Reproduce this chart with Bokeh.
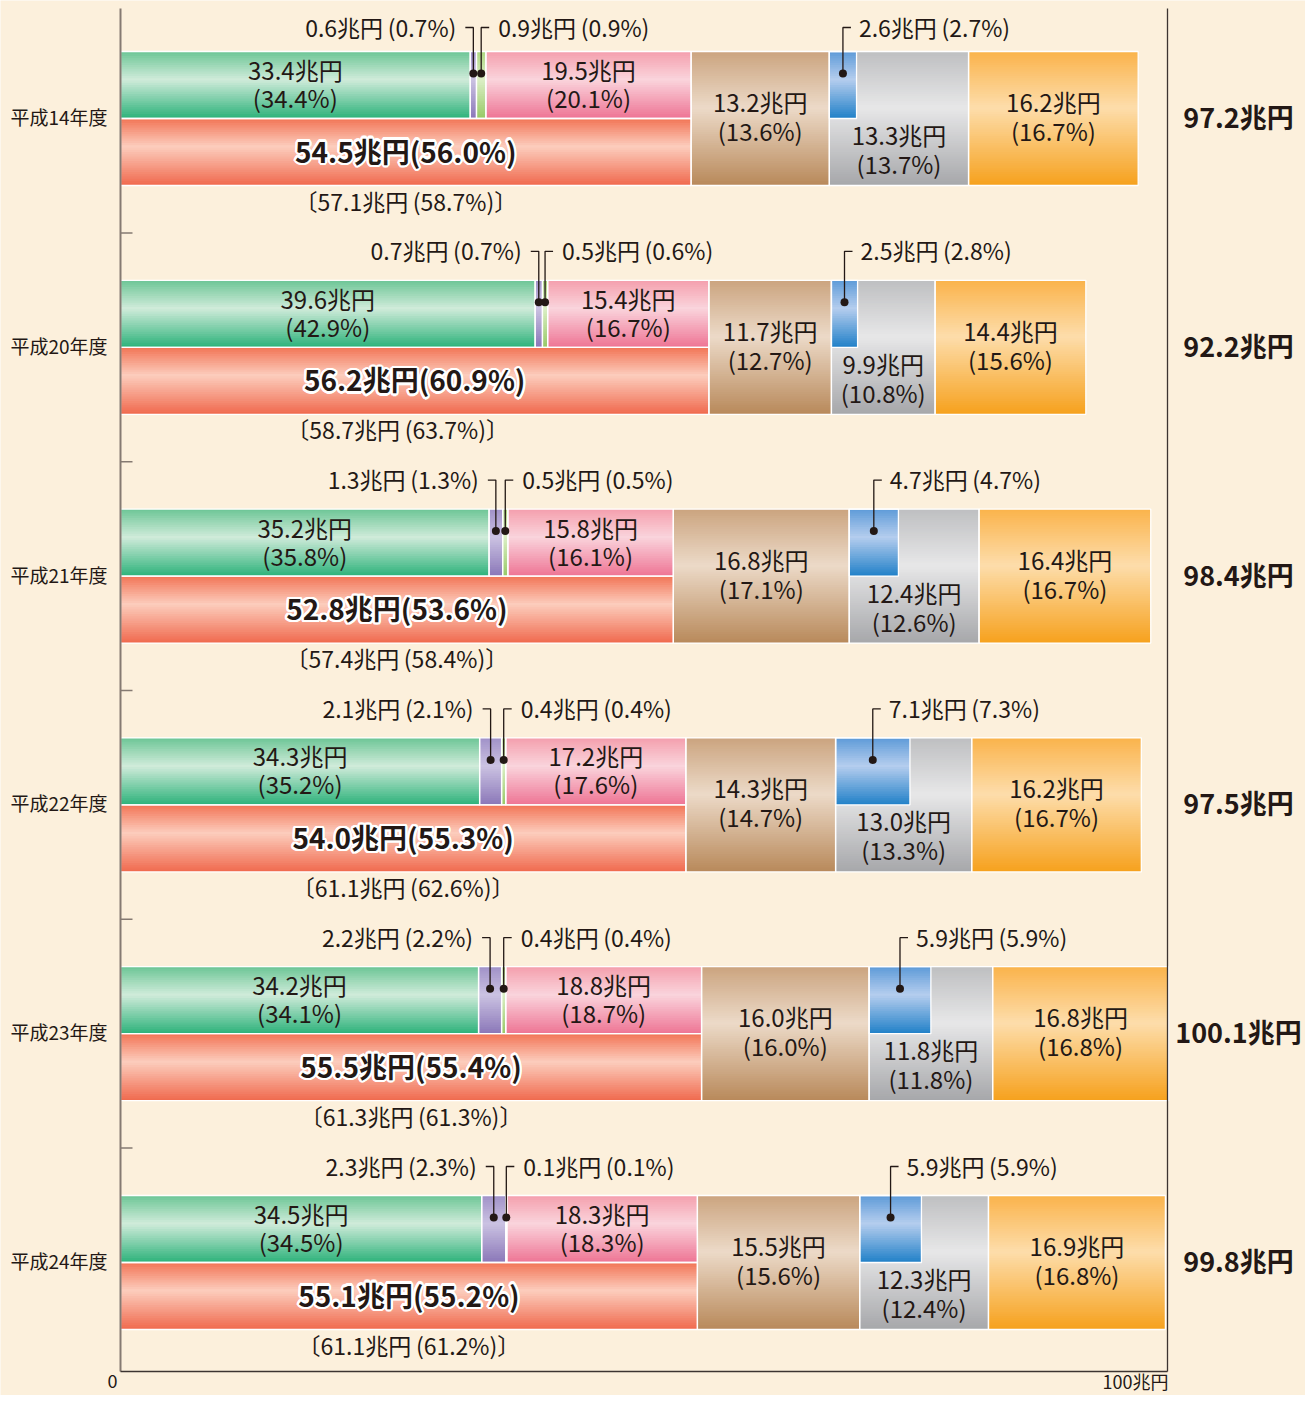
import math
from bokeh.plotting import figure
from bokeh.models import Range1d, ColumnDataSource
from bokeh.embed import file_html
from bokeh.resources import INLINE
from bokeh.core.properties import value

# ---------------- data ----------------
years = ["平成14年度", "平成20年度", "平成21年度", "平成22年度", "平成23年度", "平成24年度"]
green = [33.4, 39.6, 35.2, 34.3, 34.2, 34.5]
green_pct = [34.4, 42.9, 35.8, 35.2, 34.1, 34.5]
purple = [0.6, 0.7, 1.3, 2.1, 2.2, 2.3]
purple_pct = [0.7, 0.7, 1.3, 2.1, 2.2, 2.3]
lgreen = [0.9, 0.5, 0.5, 0.4, 0.4, 0.1]
lgreen_pct = [0.9, 0.6, 0.5, 0.4, 0.4, 0.1]
pink = [19.5, 15.4, 15.8, 17.2, 18.8, 18.3]
pink_pct = [20.1, 16.7, 16.1, 17.6, 18.7, 18.3]
red = [54.5, 56.2, 52.8, 54.0, 55.5, 55.1]
red_pct = [56.0, 60.9, 53.6, 55.3, 55.4, 55.2]
bracket = [57.1, 58.7, 57.4, 61.1, 61.3, 61.1]
bracket_pct = [58.7, 63.7, 58.4, 62.6, 61.3, 61.2]
brown = [13.2, 11.7, 16.8, 14.3, 16.0, 15.5]
brown_pct = [13.6, 12.7, 17.1, 14.7, 16.0, 15.6]
blue = [2.6, 2.5, 4.7, 7.1, 5.9, 5.9]
blue_pct = [2.7, 2.8, 4.7, 7.3, 5.9, 5.9]
gray = [13.3, 9.9, 12.4, 13.0, 11.8, 12.3]
gray_pct = [13.7, 10.8, 12.6, 13.3, 11.8, 12.4]
orange = [16.2, 14.4, 16.4, 16.2, 16.8, 16.9]
orange_pct = [16.7, 15.6, 16.7, 16.7, 16.8, 16.8]
totals = [97.2, 92.2, 98.4, 97.5, 100.1, 99.8]
axis_labels = ["0", "100兆円"]

# ---------------- layout / style ----------------
W, H = 1305, 1395
SX = 10.47          # px per 兆円
X0 = 120            # px of value 0
ROW = 228.8         # px between categories
Y0 = 118            # px of first category centre
HALF = 67
BG = "#FCF0DC"
TXT = "#231815"
FONT = "Noto Sans CJK JP"
TS = "\u2009"       # thin space before parentheses
leader_gap = [24, 29, 29, 29, 29, 29]
bracket_dx = [0, -17, 0, 0, 0, 0]

COLORS = {
    "green": ["#6CC596", "#D0EBDA", "#2CB27A"],
    "purple": ["#A091C8", "#CBC2E2", "#8A77B8"],
    "lg": ["#AED681", "#DCEFC6", "#97C966"],
    "pink": ["#F49FAD", "#FAD4DC", "#EE7494"],
    "red": ["#F27456", "#FCCDBD", "#F0694D"],
    "brown": ["#CBA47F", "#ECDAC8", "#B8895A"],
    "gray": ["#BEBFC1", "#E7E7E8", "#A6A7AA"],
    "blue": ["#5E9BD8", "#B5CDEE", "#2080C8"],
    "orange": ["#FAB34B", "#FDDDAB", "#F6A11D"],
}
MID = 0.42


def hex2rgb(h):
    h = h.lstrip("#")
    return tuple(int(h[k:k + 2], 16) for k in (0, 2, 4))


def grad(name, t):
    c0, c1, c2 = [hex2rgb(c) for c in COLORS[name]]
    if t <= MID:
        a, b, u = c0, c1, t / MID
    else:
        a, b, u = c1, c2, (t - MID) / (1 - MID)
    return "#%02x%02x%02x" % tuple(int(round(a[k] + (b[k] - a[k]) * u)) for k in range(3))


def dx(px):
    return px / SX


def dy(px):
    return px / ROW


def yref(px_ref):
    return (px_ref - Y0) / ROW


p = figure(width=W, height=H,
           x_range=Range1d(-X0 / SX, (W - X0) / SX),
           y_range=Range1d((H - Y0) / ROW, -Y0 / ROW),
           output_backend="svg", toolbar_location=None,
           x_axis_type=None, y_axis_type=None, min_border=0,
           background_fill_color=BG, border_fill_color=BG,
           outline_line_color=None)

# ---------------- segments ----------------
segs = []
n = len(years)
geo = []
for i in range(n):
    a = green[i]
    b = a + purple[i]
    c = b + lgreen[i]
    r = red[i]
    e = r + brown[i]
    f = e + gray[i]
    end = f + orange[i]
    geo.append((a, b, c, r, e, f, end))
    segs += [("green", 0, a, i, -HALF, 0), ("purple", a, b, i, -HALF, 0),
             ("lg", b, c, i, -HALF, 0), ("pink", c, r, i, -HALF, 0),
             ("red", 0, r, i, 0, HALF), ("brown", r, e, i, -HALF, HALF),
             ("gray", e, f, i, -HALF, HALF), ("blue", e, e + blue[i], i, -HALF, 0),
             ("orange", f, end, i, -HALF, HALF)]

L, R, T, B, C = [], [], [], [], []
for name, x0, x1, i, t, b_ in segs:
    h = b_ - t
    ns = max(12, int(h / 2.2))
    for k in range(ns):
        y0 = t + h * k / ns
        y1 = t + h * (k + 1) / ns + (0.9 if k < ns - 1 else 0)
        L.append(x0); R.append(x1)
        T.append(i + dy(y0)); B.append(i + dy(y1))
        C.append(grad(name, (k + 0.5) / ns))
p.quad(left=L, right=R, top=T, bottom=B, fill_color=C, line_color=None)

p.quad(left=[s[1] for s in segs], right=[s[2] for s in segs],
       top=[s[3] + dy(s[4]) for s in segs], bottom=[s[3] + dy(s[5]) for s in segs],
       fill_color=None, line_color="white", line_width=1.3)

# ---------------- axes lines ----------------
p.segment(x0=[0], y0=[yref(8)], x1=[0], y1=[yref(1371)], line_color="#857a72", line_width=2)
p.segment(x0=[100], y0=[yref(8)], x1=[100], y1=[yref(1371)], line_color="#3c3431", line_width=1.3)
p.segment(x0=[0], y0=[yref(1371)], x1=[100], y1=[yref(1371)], line_color="#3c3431", line_width=1.5)
p.segment(x0=[0] * (n - 1), y0=[i + 0.5 for i in range(n - 1)],
          x1=[dx(12)] * (n - 1), y1=[i + 0.5 for i in range(n - 1)],
          line_color="#857a72", line_width=1.5)


def txt(xs, ys, texts, size, align="center", bold=False, color=TXT, xo=0, yo=0):
    src = ColumnDataSource(dict(x=[x + dx(xo) for x in xs], y=[y + dy(yo) for y in ys], t=texts))
    p.text(x="x", y="y", text="t", source=src, text_font=value(FONT),
           text_font_size=f"{size}px", text_align=align, text_baseline="middle",
           text_color=color, text_font_style="bold" if bold else "normal")


def two_lines(xs, vals, pcts, yo1, yo2):
    idx = list(range(n))
    txt(xs, [i + dy(yo1) for i in idx], [f"{v:.1f}兆円" for v in vals], 24)
    txt(xs, [i + dy(yo2) for i in idx], [f"({q:.1f}%)" for q in pcts], 24)


two_lines([g[0] / 2 for g in geo], green, green_pct, -49, -21)
two_lines([(g[2] + g[3]) / 2 for g in geo], pink, pink_pct, -49, -21)
two_lines([(g[3] + g[4]) / 2 for g in geo], brown, brown_pct, -17, 12)
two_lines([(g[4] + g[5]) / 2 for g in geo], gray, gray_pct, 16, 45)
two_lines([(g[5] + g[6]) / 2 for g in geo], orange, orange_pct, -17, 12)

# red bold label with white halo
rx = [g[3] / 2 for g in geo]
ry = [i + dy(32) for i in range(n)]
rt = [f"{v:.1f}兆円({q:.1f}%)" for v, q in zip(red, red_pct)]
for k in range(16):
    ang = 2 * math.pi * k / 16
    txt(rx, ry, rt, 28, bold=True, color="white", xo=2.3 * math.cos(ang), yo=2.3 * math.sin(ang))
txt(rx, ry, rt, 28, bold=True)

# bracket labels
txt([g[3] / 2 + dx(bracket_dx[i]) for i, g in enumerate(geo)], [i + dy(82) for i in range(n)],
    [f"〔{v:.1f}兆円{TS}({q:.1f}%)〕" for v, q in zip(bracket, bracket_pct)], 23)

# leaders
lx, ly, dxs, dys = [], [], [], []
lt_left_x, lt_left_y, lt_left_t = [], [], []
lt_right_x, lt_right_y, lt_right_t = [], [], []
for i, g in enumerate(geo):
    ytext = i + dy(-HALF - leader_gap[i])
    ydot = i + dy(-45)
    # purple
    xp = g[0] + purple[i] / 2
    lx.append([xp, xp, xp - dx(8)]); ly.append([ydot, ytext, ytext])
    dxs.append(xp); dys.append(ydot)
    lt_left_x.append(xp - dx(17)); lt_left_y.append(ytext)
    lt_left_t.append(f"{purple[i]:.1f}兆円{TS}({purple_pct[i]:.1f}%)")
    # light green
    xl = g[1] + lgreen[i] / 2
    lx.append([xl, xl, xl + dx(8)]); ly.append([ydot, ytext, ytext])
    dxs.append(xl); dys.append(ydot)
    lt_right_x.append(xl + dx(17)); lt_right_y.append(ytext)
    lt_right_t.append(f"{lgreen[i]:.1f}兆円{TS}({lgreen_pct[i]:.1f}%)")
    # blue
    xb = g[4] + blue[i] / 2
    lx.append([xb, xb, xb + dx(8)]); ly.append([ydot, ytext, ytext])
    dxs.append(xb); dys.append(ydot)
    lt_right_x.append(xb + dx(16)); lt_right_y.append(ytext)
    lt_right_t.append(f"{blue[i]:.1f}兆円{TS}({blue_pct[i]:.1f}%)")

p.multi_line(xs=lx, ys=ly, line_color=TXT, line_width=1.3)
p.scatter(x=dxs, y=dys, size=8, marker="circle", fill_color=TXT, line_color=None)
txt(lt_left_x, [y - dy(1) for y in lt_left_y], lt_left_t, 23, align="right")
txt(lt_right_x, [y - dy(1) for y in lt_right_y], lt_right_t, 23, align="left")

# category labels and totals
txt([dx(-13)] * n, [i + dy(-2) for i in range(n)], years, 19, align="right")
txt([100 + dx(71)] * n, [i + dy(-2) for i in range(n)], [f"{t:.1f}兆円" for t in totals], 27, bold=True)

# bottom axis labels
txt([dx(-8)], [yref(1380)], [axis_labels[0]], 18)
txt([100 + dx(1)], [yref(1380)], [axis_labels[1]], 18, align="right")

open("out.html", "w").write(file_html(p, INLINE))
